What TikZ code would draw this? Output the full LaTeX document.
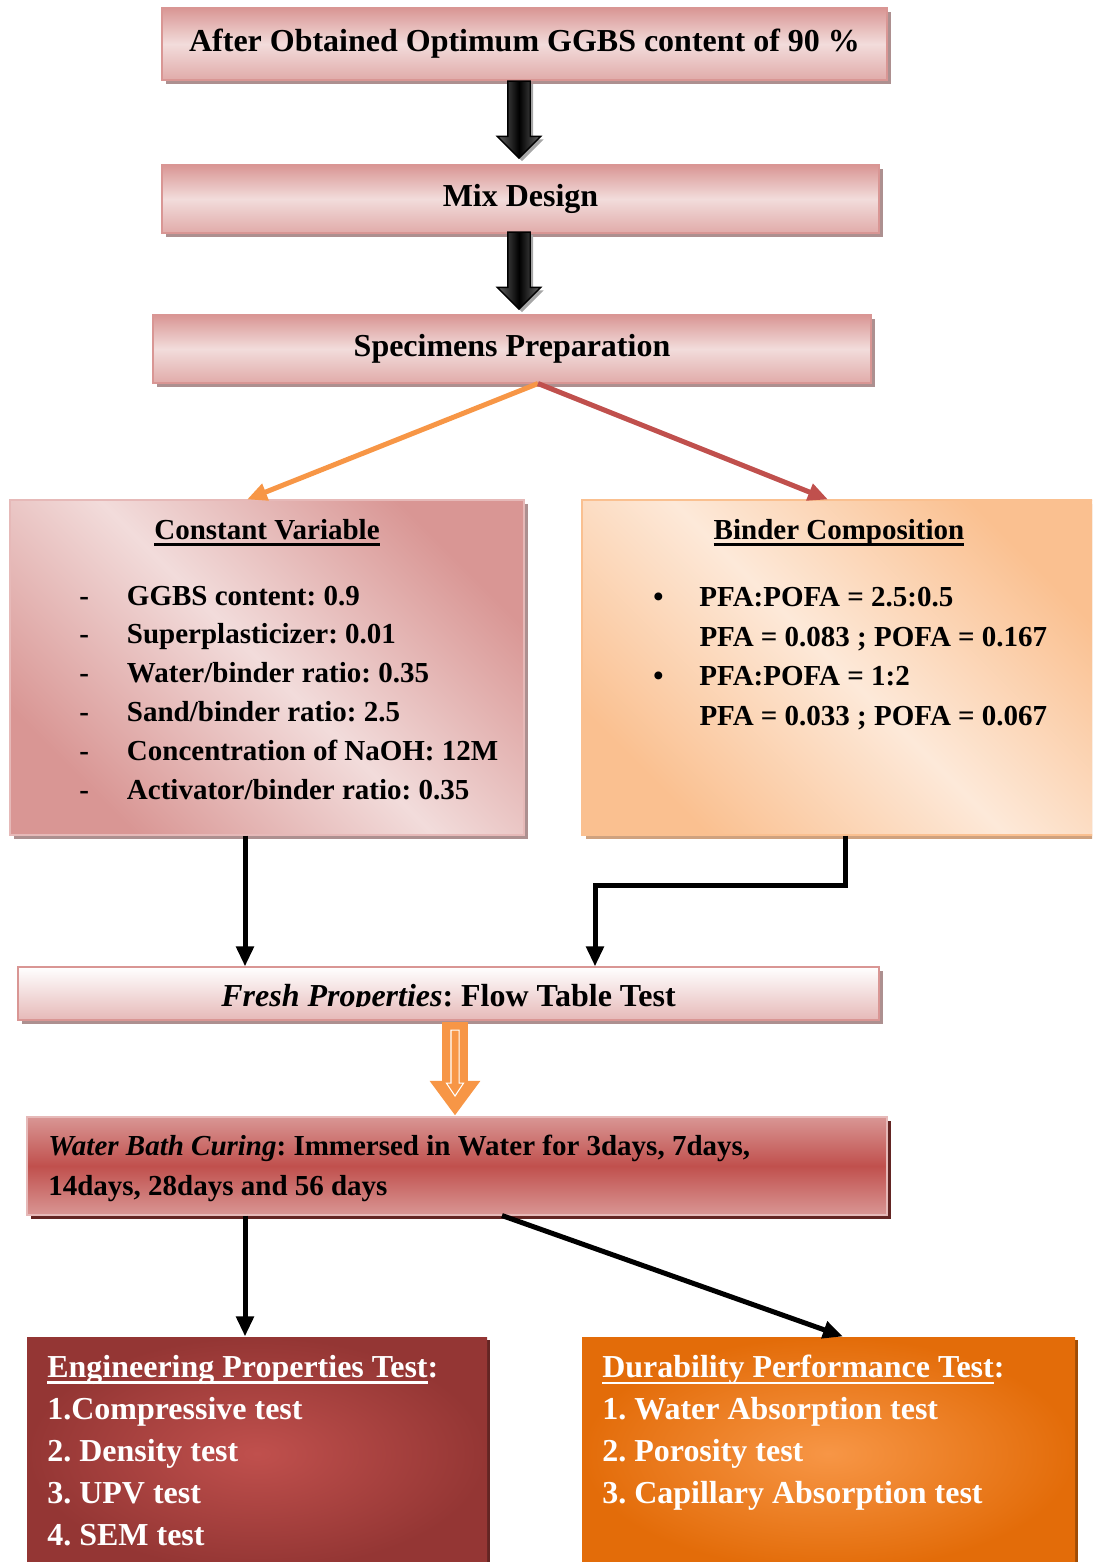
\documentclass[tikz,border=0pt]{standalone}
\usepackage{fontspec}
\setmainfont{Liberation Serif}
\frenchspacing
\usetikzlibrary{arrows.meta, shapes.arrows, shadows}

\newcommand{\thickul}[1]{\leavevmode\setbox0\hbox{#1}\rlap{\rule[-0.22em]{\wd0}{0.09em}}\box0}

\definecolor{pinkdark}{HTML}{D99694}
\definecolor{pinkmid}{HTML}{E6B9B8}
\definecolor{pinklight}{HTML}{F2DCDB}
\definecolor{redacc}{HTML}{C0504D}
\definecolor{reddark}{HTML}{943634}
\definecolor{orangeacc}{HTML}{F79646}
\definecolor{orangedark}{HTML}{E36C09}
\definecolor{orangemid}{HTML}{FAC090}
\definecolor{orangelight}{HTML}{FDE9D9}
\definecolor{shadowgray}{HTML}{AD9090}
\definecolor{shadowtan}{HTML}{CFA27F}
\definecolor{shadowred}{HTML}{632523}

\begin{document}
\begin{tikzpicture}
\useasboundingbox (0,0) rectangle (21.84,-31.24);
\clip (0,0) rectangle (21.84,-31.24);

\tikzset{bigfont/.style={font=\fontsize{18.2}{23.9}\selectfont\bfseries}}
\tikzset{smallfont/.style={font=\fontsize{16.5}{22.1}\selectfont\bfseries}}
\tikzset{box/.style={shape=rectangle, inner sep=0, line width=0.6pt}}
\tikzset{pinkbox/.style={box, bigfont, draw=pinkdark, top color=pinkdark, bottom color=pinkdark!70!pinklight, middle color=pinklight, drop shadow={shadow xshift=0.08cm, shadow yshift=-0.08cm, fill=shadowgray, opacity=1}}}
\tikzset{cvbox/.style={box, draw=pinkmid, top color=pinkdark, bottom color=pinkdark, middle color=pinklight, shading angle=-45, drop shadow={shadow xshift=0.08cm, shadow yshift=-0.08cm, fill=shadowgray, opacity=1}}}
\tikzset{bcbox/.style={box, draw=orangemid, top color=orangemid, bottom color=orangemid, middle color=orangelight, shading angle=-45, drop shadow={shadow xshift=0.08cm, shadow yshift=-0.08cm, fill=shadowtan, opacity=1}}}
\tikzset{freshbox/.style={box, draw=pinkdark, top color=white, bottom color=pinkmid, drop shadow={shadow xshift=0.08cm, shadow yshift=-0.08cm, fill=shadowgray, opacity=1}}}
\tikzset{waterbox/.style={box, draw=pinkmid, top color=pinkdark, bottom color=pinkdark, middle color=redacc, drop shadow={shadow xshift=0.08cm, shadow yshift=-0.08cm, fill=shadowred, opacity=1}}}
\tikzset{engbox/.style={box, inner color=redacc, outer color=reddark, drop shadow={shadow xshift=0.06cm, shadow yshift=-0.06cm, fill=shadowred, opacity=1}}}
\tikzset{durbox/.style={box, inner color=orangeacc, outer color=orangedark, drop shadow={shadow xshift=0.06cm, shadow yshift=-0.06cm, fill=orangedark!70!black, opacity=1}}}
\tikzset{blockarrow/.style={single arrow, draw=black, line width=0.8pt, rotate=-90, inner sep=0.21cm, single arrow head extend=0.21cm, minimum height=1.54cm, left color=gray!80!black, right color=gray!80!black, middle color=black, drop shadow={shadow xshift=0.06cm, shadow yshift=-0.06cm, fill=gray!70, opacity=1}}}
\tikzset{hollowarrow/.style={single arrow, fill=orangeacc, rotate=-90, inner sep=0.25cm, single arrow head extend=0.25cm, single arrow tip angle=73, minimum height=1.86cm}}
\tikzset{hollowinner/.style={single arrow, draw=white, fill=orangeacc, line width=0.6pt, rotate=-90, inner sep=0.07cm, single arrow head extend=0.09cm, single arrow tip angle=67, minimum height=1.32cm}}
\tikzset{flow/.style={->, >={Triangle[length=0.4cm, width=0.34cm]}, line width=0.1cm}}
\tikzset{orangepath/.style={flow, color=orangeacc}}
\tikzset{redpath/.style={flow, color=redacc}}
\tikzset{blackpath/.style={flow, color=black}}

\node[pinkbox, minimum width=14.5cm, minimum height=1.44cm] (obtain) at (10.49,-0.88) {After Obtained Optimum GGBS content of 90 \%};
\node[pinkbox, minimum width=14.34cm, minimum height=1.36cm] (mix) at (10.41,-3.98) {Mix Design};
\node[pinkbox, minimum width=14.36cm, minimum height=1.36cm] (spec) at (10.24,-6.98) {Specimens Preparation};
\node[blockarrow] (down1) at (10.38,-2.28) {};
\node[blockarrow] (down2) at (10.38,-5.3) {};

\node[cvbox, minimum width=10.28cm, minimum height=6.7cm] (const) at (5.34,-13.35) {};
\node[smallfont, anchor=base] (cvtitle) at (5.34,-10.79) {\thickul{Constant Variable}};
\node[smallfont, anchor=north west, inner sep=0] (cvlist) at (1.58,-11.55) {\begin{tabular}{@{}l@{\hspace{0.76cm}}l@{}}
- & GGBS content: 0.9\\
- & Superplasticizer: 0.01\\
- & Water/binder ratio: 0.35\\
- & Sand/binder ratio: 2.5\\
- & Concentration of NaOH: 12M\\
- & Activator/binder ratio: 0.35
\end{tabular}};

\node[bcbox, minimum width=10.28cm, minimum height=6.7cm] (binder) at (16.78,-13.35) {};
\node[smallfont, anchor=base] (bctitle) at (16.78,-10.79) {\thickul{Binder Composition}};
\node[anchor=north west, inner sep=0, font=\fontsize{16.5}{22.4}\selectfont\bfseries] (bclist) at (13.06,-11.58) {\begin{tabular}{@{}l@{\hspace{0.72cm}}l@{}}
• & PFA:POFA = 2.5:0.5\\
  & PFA = 0.083 ; POFA = 0.167\\
• & PFA:POFA = 1:2\\
  & PFA = 0.033 ; POFA = 0.067
\end{tabular}};

\node[freshbox, minimum width=17.22cm, minimum height=1.06cm] (fresh) at (8.97,-19.87) {};
\begin{scope}
\clip (fresh.north west) rectangle ([yshift=-0.26cm]fresh.east);
\node[bigfont, anchor=base] (freshtext) at (8.97,-20.12) {\textit{Fresh Properties}: Flow Table Test};
\end{scope}

\node[hollowarrow] (hollow) at (9.1,-21.2) {};
\node[hollowinner] (hollowin) at (9.1,-21.2) {};

\node[waterbox, minimum width=17.2cm, minimum height=1.96cm] (water) at (9.14,-23.32) {};
\node[anchor=north west, align=left, inner sep=0, font=\fontsize{16.5}{22.8}\selectfont\bfseries] (watertext) at (0.96,-22.7) {\textit{Water Bath Curing}: Immersed in Water for 3days, 7days,\\14days, 28days and 56 days};

\node[engbox, minimum width=9.2cm, minimum height=4.66cm] (eng) at (5.14,-29.07) {};
\node[bigfont, text=white, anchor=north west, align=left, inner sep=0] (englist) at (0.94,-27.09) {\thickul{Engineering Properties Test}:\\1.Compressive test\\2. Density test\\3. UPV test\\4. SEM test};
\node[durbox, minimum width=9.86cm, minimum height=4.66cm] (dur) at (16.57,-29.07) {};
\node[bigfont, text=white, anchor=north west, align=left, inner sep=0] (durlist) at (12.04,-27.09) {\thickul{Durability Performance Test}:\\1. Water Absorption test\\2. Porosity test\\3. Capillary Absorption test};

\draw[orangepath] ([xshift=0.52cm]spec.south) -- ([xshift=-0.4cm]const.north);
\draw[redpath] ([xshift=0.52cm]spec.south) -- ([xshift=-0.22cm]binder.north);
\draw[blackpath] ([xshift=-0.44cm]const.south) -- ([xshift=-0.44cm]const.south |- fresh.north);
\draw[blackpath] ([xshift=0.12cm]binder.south) -- ++(0,-1) -| ([xshift=2.93cm]fresh.north);
\draw[blackpath] ([xshift=-0.24cm]eng.north |- water.south) -- ([xshift=-0.24cm]eng.north);
\draw[blackpath] ([xshift=0.9cm]water.south) -- ([xshift=0.29cm]dur.north);

\end{tikzpicture}
\end{document}
